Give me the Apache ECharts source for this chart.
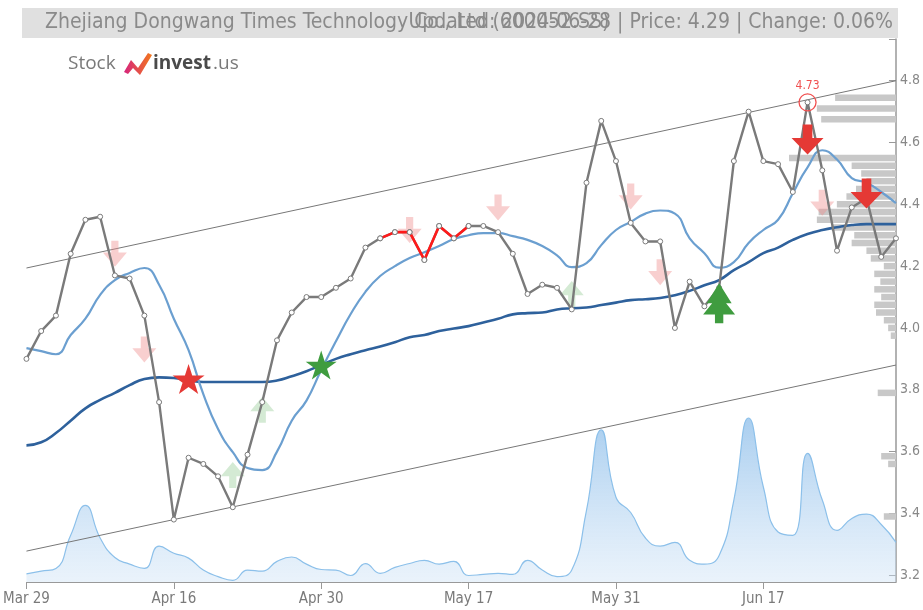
<!DOCTYPE html>
<html><head><meta charset="utf-8">
<script src="https://cdn.jsdelivr.net/npm/echarts@6/dist/echarts.min.js"></script>
<style>html,body{margin:0;padding:0;background:#fff}#c{width:923px;height:610px}</style>
</head><body><div id="c"></div>
<script>
const dates = ["Mar 29","Apr 1","Apr 2","Apr 3","Apr 8","Apr 9","Apr 10","Apr 11","Apr 12","Apr 15","Apr 16","Apr 17","Apr 18","Apr 19","Apr 22","Apr 23","Apr 24","Apr 25","Apr 26","Apr 29","Apr 30","May 6","May 7","May 8","May 9","May 10","May 13","May 14","May 15","May 16","May 17","May 20","May 21","May 22","May 23","May 24","May 27","May 28","May 29","May 30","May 31","Jun 3","Jun 4","Jun 5","Jun 6","Jun 7","Jun 11","Jun 12","Jun 13","Jun 14","Jun 17","Jun 18","Jun 19","Jun 20","Jun 21","Jun 24","Jun 25","Jun 26","Jun 27","Jun 28"];
const closes = [3.90,3.99,4.04,4.24,4.35,4.36,4.17,4.16,4.04,3.76,3.38,3.58,3.56,3.52,3.42,3.59,3.76,3.96,4.05,4.10,4.10,4.13,4.16,4.26,4.29,4.31,4.31,4.22,4.33,4.29,4.33,4.33,4.31,4.24,4.11,4.14,4.13,4.06,4.47,4.67,4.54,4.34,4.28,4.28,4.00,4.15,4.07,4.13,4.54,4.70,4.54,4.53,4.44,4.73,4.51,4.25,4.39,4.42,4.23,4.29];
const maShort = [3.935,3.925,3.915,3.977,4.03,4.107,4.155,4.178,4.194,4.14,4.03,3.928,3.786,3.673,3.598,3.547,3.54,3.60,3.70,3.765,3.864,3.957,4.045,4.117,4.168,4.20,4.226,4.245,4.265,4.288,4.30,4.307,4.307,4.297,4.285,4.265,4.235,4.197,4.21,4.268,4.317,4.343,4.37,4.38,4.37,4.29,4.242,4.195,4.213,4.275,4.317,4.35,4.436,4.52,4.575,4.545,4.485,4.47,4.44,4.404];
const maLong = [3.62,3.63,3.66,3.70,3.74,3.767,3.79,3.815,3.835,3.84,3.838,3.83,3.825,3.825,3.825,3.825,3.825,3.83,3.844,3.86,3.88,3.90,3.915,3.928,3.94,3.954,3.97,3.977,3.99,3.998,4.006,4.018,4.03,4.044,4.048,4.05,4.06,4.064,4.066,4.074,4.082,4.09,4.093,4.097,4.106,4.12,4.138,4.155,4.187,4.213,4.242,4.26,4.285,4.304,4.317,4.326,4.333,4.336,4.336,4.336];
const volumes = [1.5,2.0,2.5,8.6,14.1,8.1,4.5,3.3,2.5,6.6,5.3,4.4,2.2,1.0,0.3,2.2,2.0,3.8,4.6,3.3,2.3,2.2,1.2,3.4,1.6,2.7,3.4,4.0,3.3,3.8,1.2,1.4,1.6,1.4,4.0,2.2,1.0,2.2,13.2,28.0,15.6,12.8,8.1,6.6,7.3,4.0,3.3,4.9,15.1,30.2,17.5,9.2,8.6,23.7,15.1,9.5,11.7,12.5,10.6,7.3];
const channelUpper = [4.194, 4.80];
const channelLower = [3.278, 3.88];
const yTicks = [3.2,3.4,3.6,3.8,4.0,4.2,4.4,4.6,4.8];
const redIdxFrom = 24, redIdxTo = 30;
const maxIdx = 53, maxLabel = "4.73";
// signals: [index, price]
const sigPaleDown = [[6,4.24],[8,3.93],[26,4.317],[32,4.39],[41,4.425],[43,4.18],[54,4.405]];
const sigPaleUp = [[14,3.524],[16,3.735],[37,4.11]];
const sigRedDown = [[53,4.61],[57,4.435]];
const sigGreenUp = [[47,4.08]];
const sigRedStar = [[11,3.835]];
const sigGreenStar = [[20,3.88]];
// volume profile (price level, size)
const profPrices = [4.745,4.71,4.675,4.55,4.525,4.50,4.475,4.45,4.425,4.40,4.375,4.35,4.325,4.30,4.275,4.25,4.225,4.20,4.175,4.15,4.125,4.10,4.075,4.05,4.025,4.00,3.975,3.79,3.585,3.56,3.39];
const profSizes  = [7.0,9.1,8.6,12.3,5.1,4.0,3.4,4.6,5.7,6.8,8.9,9.1,7.4,4.8,5.1,3.4,2.9,1.4,2.5,1.8,2.5,1.7,2.5,2.3,1.4,0.9,0.6,2.1,1.7,0.9,1.4];

const FONT = '"Liberation Sans Narrow","DejaVu Sans Condensed",sans-serif';
const chart = echarts.init(document.getElementById('c'), null, {renderer:'canvas'});
const last = dates.length - 1;
const redSeg = closes.map((v,i)=> (i>=redIdxFrom && i<=redIdxTo) ? v : null);
const DOWN = 'path://M35,0 L65,0 L65,45 L100,45 L50,100 L0,45 L35,45 Z';
const UP = 'path://M35,100 L65,100 L65,55 L100,55 L50,0 L0,55 L35,55 Z';
const TREE = 'path://M38,100 L62,100 L62,78 L96,78 L70,50 L86,50 L50,0 L14,50 L30,50 L4,78 L38,78 Z';
const STAR = 'path://M50,0 L61,35 L98,35 L68,57 L79,91 L50,70 L21,91 L32,57 L2,35 L39,35 Z';

const option = {
  animation:false,
  grid:{left:23, right:24, top:39, bottom:28},
  xAxis:[{
    type:'category', data:dates, boundaryGap:false,
    axisLine:{lineStyle:{color:'#999'}},
    axisTick:{interval:9, length:7, lineStyle:{color:'#999'}},
    axisLabel:{interval:9, color:'#7a7a7a', fontFamily:FONT, fontSize:15, margin:10},
    splitLine:{show:false}
  },{
    type:'value', min:0, max:100, inverse:true, show:false
  }],
  yAxis:[{
    type:'value', position:'right', min:3.178, max:4.935,
    axisLine:{show:true, lineStyle:{color:'#999', width:1.5}},
    axisTick:{show:true, inside:true, length:7, customValues:yTicks.concat([4.935]), lineStyle:{color:'#999'}},
    axisLabel:{customValues:yTicks, formatter:v=>v.toFixed(1), color:'#888', fontFamily:FONT, fontSize:14, margin:4},
    splitLine:{show:false}
  },{
    type:'value', min:0, max:100, show:false
  }],
  series:[
    {type:'line', name:'vol', xAxisIndex:0, yAxisIndex:1, data:volumes, smooth:0.5, symbol:'none', z:1,
      lineStyle:{color:'#8cc0ea', width:1.2},
      areaStyle:{color:new echarts.graphic.LinearGradient(0,0,0,1,[{offset:0,color:'rgba(110,172,228,0.85)'},{offset:1,color:'rgba(205,226,246,0.6)'}])}},
    {type:'custom', name:'profile', xAxisIndex:1, yAxisIndex:0, z:2,
      data: profPrices.map((p,i)=>[profSizes[i], p]),
      renderItem:(params, api)=>{
        const s = api.value(0), p = api.value(1);
        const a = api.coord([s, p]); const b = api.coord([0, p]);
        const h = api.size([0, 0.021])[1];
        return {type:'rect', shape:{x:a[0], y:a[1]-h/2, width:b[0]-a[0], height:h}, style:{fill:'#c8c8c8'}};
      }},
    {type:'line', name:'upper', data:[[0,channelUpper[0]],[last,channelUpper[1]]], symbol:'none', z:3, lineStyle:{color:'#777', width:1}},
    {type:'line', name:'lower', data:[[0,channelLower[0]],[last,channelLower[1]]], symbol:'none', z:3, lineStyle:{color:'#777', width:1}},
    {type:'scatter', name:'paleDown', data:sigPaleDown, symbol:DOWN, symbolSize:[24,26], z:4, itemStyle:{color:'rgba(238,140,140,0.42)', opacity:1}},
    {type:'scatter', name:'paleUp', data:sigPaleUp, symbol:UP, symbolSize:[24,26], z:4, itemStyle:{color:'rgba(120,190,120,0.32)', opacity:1}},
    {type:'line', name:'maLong', data:maLong, smooth:true, symbol:'none', z:5, lineStyle:{color:'#2e619c', width:2.6}},
    {type:'line', name:'maShort', data:maShort, smooth:true, symbol:'none', z:5, lineStyle:{color:'#6b9fd0', width:2.2}},
    {type:'line', name:'close', data:closes, symbol:'circle', symbolSize:5, z:6,
      lineStyle:{color:'#7a7a7a', width:2.4}, itemStyle:{color:'#fff', borderColor:'#7a7a7a', borderWidth:1}},
    {type:'line', name:'closeRed', data:redSeg, symbol:'circle', symbolSize:5, z:7, connectNulls:false,
      lineStyle:{color:'#ff1a1a', width:2.6}, itemStyle:{color:'#fff', borderColor:'#7a7a7a', borderWidth:1}},
    {type:'scatter', name:'max', data:[[maxIdx, closes[maxIdx]]], symbol:'circle', symbolSize:17, z:8,
      itemStyle:{color:'rgba(0,0,0,0)', borderColor:'#f05050', borderWidth:1.3, opacity:1},
      label:{show:true, position:'top', distance:1, formatter:maxLabel, color:'#f05050', fontSize:12, fontFamily:FONT}},
    {type:'scatter', name:'redDown', data:sigRedDown, symbol:DOWN, symbolSize:[32,30], z:9, itemStyle:{color:'#e53935', opacity:1}},
    {type:'scatter', name:'greenUp', data:sigGreenUp, symbol:TREE, symbolSize:[32,40], z:9, itemStyle:{color:'#3f9c3f', opacity:1}},
    {type:'scatter', name:'redStar', data:sigRedStar, symbol:STAR, symbolSize:[32,30], z:9, itemStyle:{color:'#e53935', opacity:1}},
    {type:'scatter', name:'greenStar', data:sigGreenStar, symbol:STAR, symbolSize:[31,29], z:9, itemStyle:{color:'#3f9c3f', opacity:1}}
  ],
  graphic:[
    {type:'rect', left:22, top:8, shape:{width:876, height:30}, style:{fill:'#e0e0e0'}, z:0},
    {type:'text', left:45, top:12, style:{text:'Zhejiang Dongwang Times Technology Co., Ltd (600052.SS)', fill:'#8a8a8a', font:'21px '+FONT}, z:1},
    {type:'text', right:30, top:12, style:{text:'Updated: 2024-06-28 | Price: 4.29 | Change: 0.06%', fill:'#8a8a8a', font:'21px '+FONT}, z:1},
    {type:'text', left:68, top:54, style:{text:'Stock', fill:'#7a7a7a', font:'19px "Open Sans",sans-serif'}, z:1},
    {type:'polygon', shape:{points:[[124,72],[131,60],[138,68],[148,53],[152,55],[140,75],[133,68],[128,74]]},
      style:{fill:new echarts.graphic.LinearGradient(0,0,1,0,[{offset:0,color:'#d6247d'},{offset:1,color:'#f2781c'}])}, z:1},
    {type:'text', left:153, top:54, style:{text:'invest', fill:'#4a4a4a', font:'bold 19px "Open Sans",sans-serif'}, z:1},
    {type:'text', left:213, top:54, style:{text:'.us', fill:'#7a7a7a', font:'19px "Open Sans",sans-serif'}, z:1}
  ]
};
chart.setOption(option);
</script></body></html>
